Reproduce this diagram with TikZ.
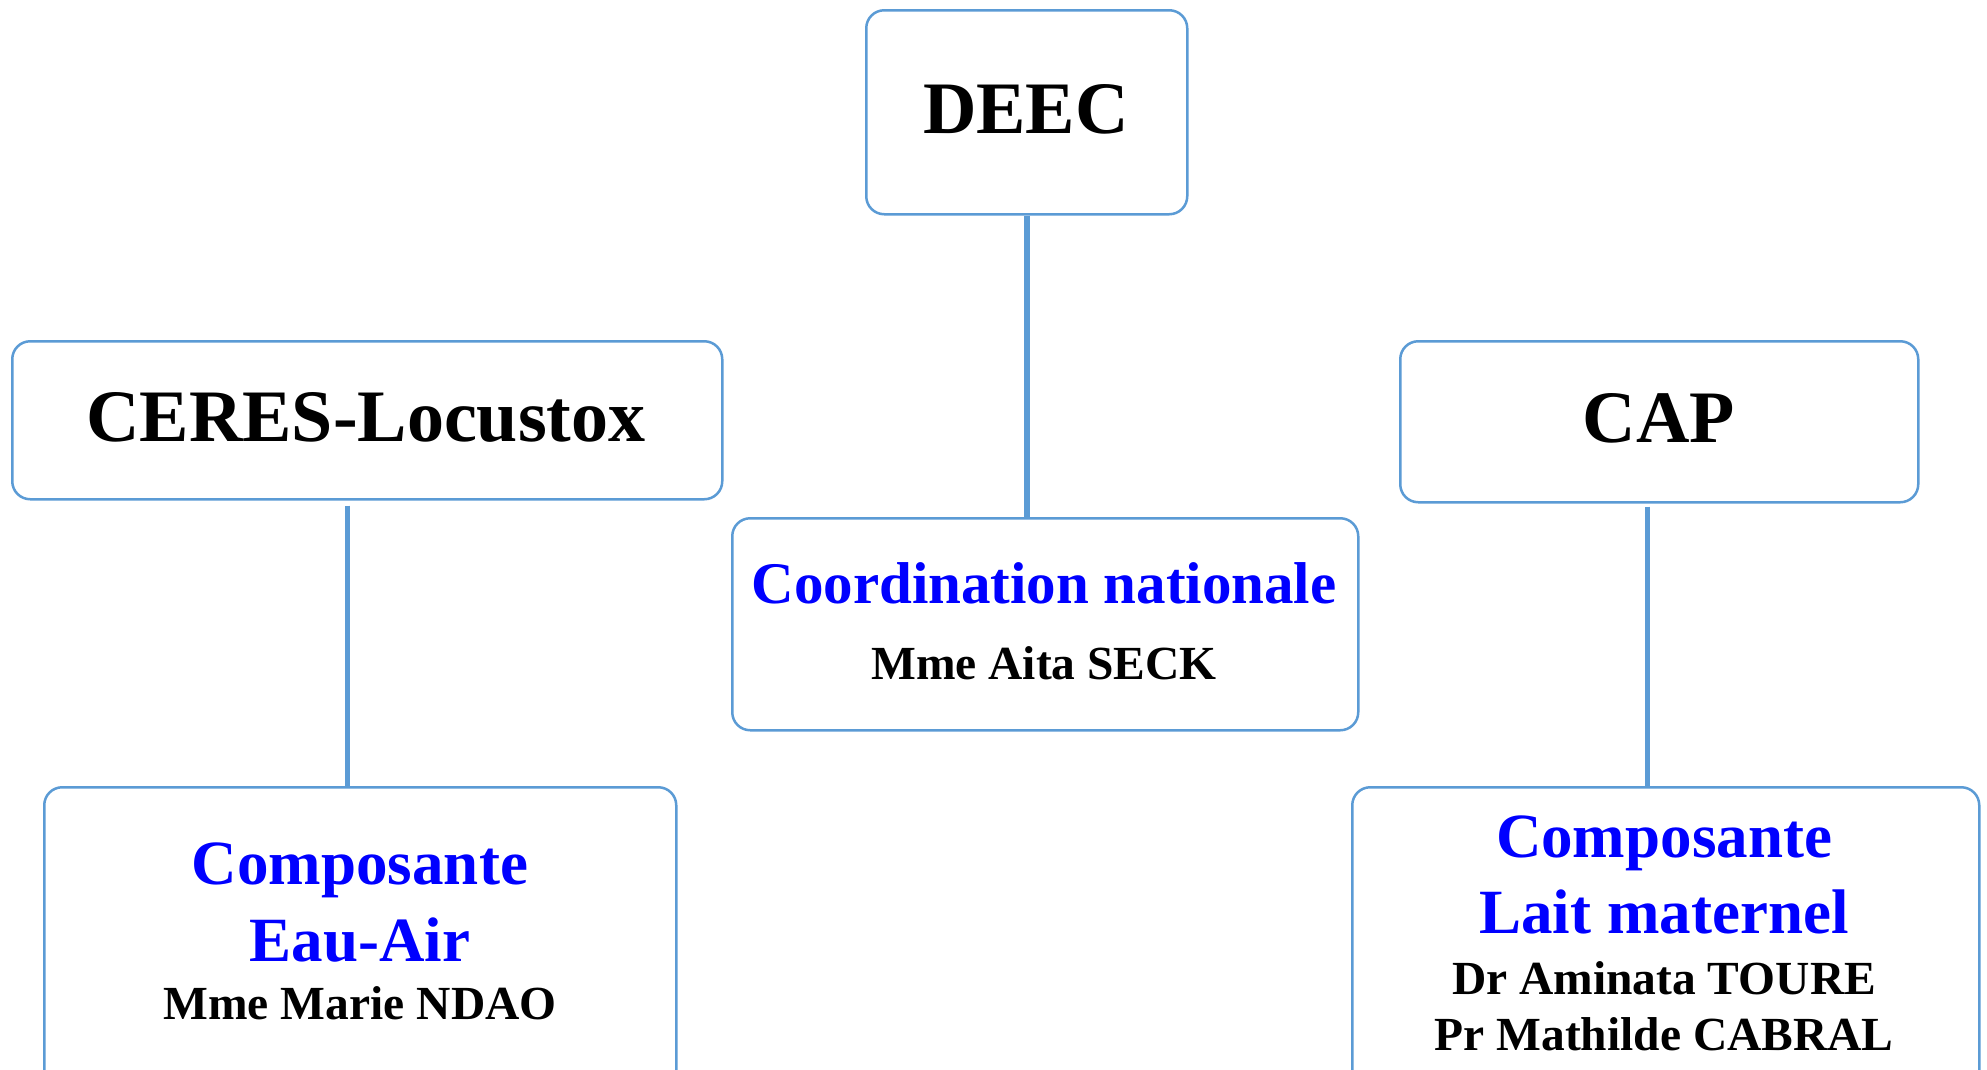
\documentclass[tikz,border=0pt]{standalone}
\usepackage{fontspec}
\setmainfont{Liberation Serif}
\definecolor{boxblue}{RGB}{91,155,213}
\definecolor{txtblue}{RGB}{0,0,255}
\begin{document}
\begin{tikzpicture}[x=1pt,y=-1pt,
  box/.style={draw=boxblue, line width=2.5pt, rounded corners=18pt, fill=white, anchor=north west, inner sep=0pt},
  link/.style={draw=boxblue, line width=5.5pt},
  txt/.style={anchor=base, inner sep=0pt},
  big/.style={txt, font=\fontsize{74}{80}\selectfont\bfseries},
  mid/.style={txt, text=txtblue, font=\fontsize{63}{70}\selectfont\bfseries},
  coordf/.style={txt, text=txtblue, font=\fontsize{59}{66}\selectfont\bfseries},
  small/.style={txt, font=\fontsize{47.5}{53}\selectfont\bfseries}
]
\clip (0,0) rectangle (1987,1069);
\fill[white] (0,0) rectangle (1987,1069);

% boxes
\node[box, minimum width=321pt, minimum height=204pt] (deec) at (865,9) {};
\node[box, minimum width=710pt, minimum height=158pt] (ceres) at (11,340) {};
\node[box, minimum width=518pt, minimum height=161pt] (cap) at (1399,340) {};
\node[box, minimum width=626pt, minimum height=212pt] (coord) at (731,517) {};
\node[box, minimum width=632pt, minimum height=340pt] (eau) at (43,786) {};
\node[box, minimum width=627pt, minimum height=340pt] (lait) at (1351,786) {};

% connectors
\draw[link] (deec.south) -- (deec.south |- coord.north);
\coordinate (cl) at ([xshift=-20pt,yshift=-5pt]ceres.south);
\draw[link] (cl) -- (cl |- eau.north);
\coordinate (cr) at ([xshift=-12pt,yshift=-3pt]cap.south);
\draw[link] (cr) -- (cr |- lait.north);

% texts
\node[big] (tdeec) at (1026,133) {DEEC};
\node[big] (tceres) at (366,441) {CERES-Locustox};
\node[big] (tcap) at (1659,442) {CAP};

\node[coordf] (tcoord) at (1044,603) {Coordination nationale};
\node[small] (tseck) at (1044,679) {Mme Aita SECK};

\node[mid] (teau1) at (360,884) {Composante};
\node[mid] (teau2) at (360,961) {Eau-Air};
\node[small] (tndao) at (360,1019) {Mme Marie NDAO};

\node[mid] (tlait1) at (1664,857) {Composante};
\node[mid] (tlait2) at (1664,933) {Lait maternel};
\node[small] (ttoure) at (1664,994) {Dr Aminata TOURE};
\node[small] (tcabral) at (1664,1050) {Pr Mathilde CABRAL};
\end{tikzpicture}
\end{document}
